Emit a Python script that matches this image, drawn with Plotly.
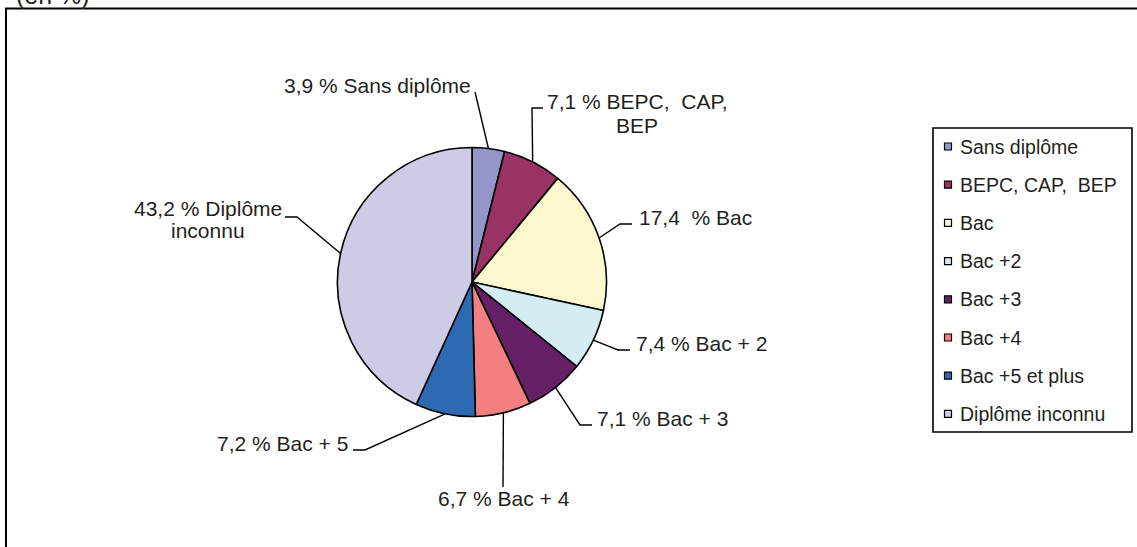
import math
import plotly.graph_objects as go

# ---------------- data ----------------
categories = ["Sans diplôme", "BEPC, CAP,  BEP", "Bac", "Bac +2", "Bac +3",
              "Bac +4", "Bac +5 et plus", "Diplôme inconnu"]
values = [3.9, 7.1, 17.4, 7.4, 7.1, 6.7, 7.2, 43.2]
slice_labels = ["3,9 % Sans diplôme", "7,1 % BEPC,  CAP,<br>BEP", "17,4  % Bac",
                "7,4 % Bac + 2", "7,1 % Bac + 3", "6,7 % Bac + 4",
                "7,2 % Bac + 5", "43,2 % Diplôme<br>inconnu"]
title_text = "(en %)"

# ---------------- styles / layout ----------------
colors = ["#9595C9", "#993366", "#FBF8CE", "#D4ECF3", "#662166",
          "#F47F80", "#2E6AB1", "#CECBE7"]
W, H = 1137, 547
CX, CY, R = 472, 282, 134.5
FONT = "Arial, 'Liberation Sans', sans-serif"
TXT = "#231F20"
FS_LABEL = 21
FS_LEGEND = 19.5

# label placement (pixel space): x anchor, y of each line, xanchor, leader points (label side first)
label_pos = [
    dict(x=473, ys=[85], xa="right", pts=[(475, 92)]),
    dict(x=637, ys=[101, 125], xa="center", pts=[(543, 108), (532, 108)]),
    dict(x=637, ys=[217], xa="left", pts=[(632, 224), (620, 224)]),
    dict(x=634, ys=[343], xa="left", pts=[(630, 350), (618, 350)]),
    dict(x=595, ys=[418], xa="left", pts=[(592, 425), (580, 425)]),
    dict(x=504, ys=[498], xa="center", pts=[(503, 487)]),
    dict(x=350, ys=[443], xa="right", pts=[(353, 450), (365, 450)]),
    dict(x=208, ys=[208, 230], xa="center", pts=[(285, 217), (297, 217)]),
]

def nb(s):
    return s.replace("  ", " \u00a0")

fig = go.Figure()

# pie
fig.add_trace(go.Pie(
    labels=categories, values=values, sort=False, direction="clockwise",
    rotation=0, textinfo="none", hoverinfo="label+percent",
    marker=dict(colors=colors, line=dict(color="black", width=1.6)),
    domain=dict(x=[(CX - R) / W, (CX + R) / W],
                y=[1 - (CY + R) / H, 1 - (CY - R) / H]),
    showlegend=False,
))

# leader lines + labels
total = sum(values)
cum = 0.0
annotations = []
shapes = []
for i, v in enumerate(values):
    f = (cum + v / 2) / total
    cum += v
    th = 2 * math.pi * f
    ex = CX + R * math.sin(th)
    ey = CY - R * math.cos(th)
    lp = label_pos[i]
    xs = [p[0] for p in lp["pts"]] + [ex]
    ys = [p[1] for p in lp["pts"]] + [ey]
    fig.add_trace(go.Scatter(x=xs, y=ys, mode="lines",
                             line=dict(color="black", width=1.4),
                             hoverinfo="skip", showlegend=False))
    for line_text, ly in zip(slice_labels[i].split("<br>"), lp["ys"]):
        annotations.append(dict(
            x=lp["x"], y=ly, xref="x", yref="y", text=nb(line_text),
            showarrow=False, xanchor=lp["xa"], yanchor="middle",
            font=dict(family=FONT, size=FS_LABEL, color=TXT)))

# custom legend
LX0, LX1, LY0, LY1 = 933, 1132, 128, 432
shapes.append(dict(type="rect", xref="x", yref="y", x0=LX0, x1=LX1, y0=LY0, y1=LY1,
                   line=dict(color="black", width=1.6), fillcolor="white", layer="below"))
for i, cat in enumerate(categories):
    yc = 146.5 + i * 38.2
    shapes.append(dict(type="rect", xref="x", yref="y", x0=944.5, x1=951.5,
                       y0=yc - 3.5, y1=yc + 3.5, fillcolor=colors[i],
                       line=dict(color="black", width=1.2), layer="above"))
    annotations.append(dict(
        x=958, y=yc, xref="x", yref="y", text=nb(cat), showarrow=False,
        xanchor="left", yanchor="middle",
        font=dict(family=FONT, size=FS_LEGEND, color=TXT)))

# outer frame (extends beyond the visible area on the right and bottom)
shapes.append(dict(type="rect", xref="x", yref="y", x0=6, x1=W + 20, y0=8.5, y1=H + 20,
                   line=dict(color="black", width=2), layer="below"))

# title (mostly cut off at the top, as in the reference)
annotations.append(dict(x=14 / W, y=1 + 5 / H, xref="paper", yref="paper",
                        text=title_text, showarrow=False,
                        xanchor="left", yanchor="middle",
                        font=dict(family=FONT, size=25, color=TXT)))

fig.update_layout(
    width=W, height=H, margin=dict(l=0, r=0, t=0, b=0),
    paper_bgcolor="white", plot_bgcolor="white",
    xaxis=dict(range=[0, W], visible=False, fixedrange=True),
    yaxis=dict(range=[H, 0], visible=False, fixedrange=True),
    shapes=shapes, annotations=annotations, showlegend=False,
)

fig.write_html("out.html",
               config={"displayModeBar": False},
               post_script="document.body.style.margin='0';"
                           "document.body.style.overflow='hidden';")
